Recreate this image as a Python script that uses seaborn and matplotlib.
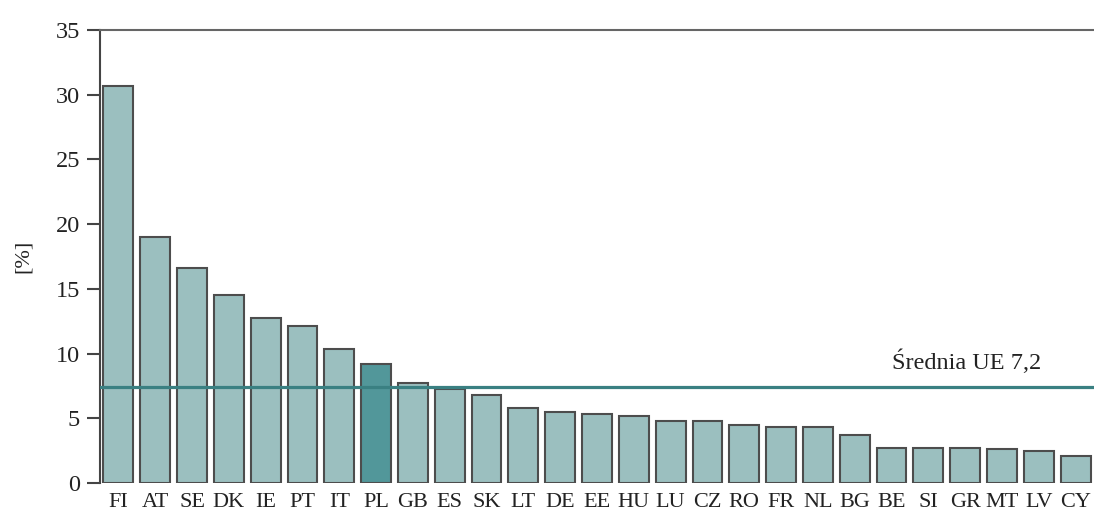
import numpy as np
import pandas as pd
import seaborn as sns
import matplotlib.pyplot as plt

# dane
countries = ["FI", "AT", "SE", "DK", "IE", "PT", "IT", "PL", "GB", "ES", "SK", "LT", "DE",
             "EE", "HU", "LU", "CZ", "RO", "FR", "NL", "BG", "BE", "SI", "GR", "MT", "LV", "CY"]
values = [30.7, 19.0, 16.6, 14.5, 12.75, 12.1, 10.35, 9.2, 7.7, 7.3, 6.8, 5.8, 5.5,
          5.35, 5.2, 4.8, 4.8, 4.45, 4.35, 4.35, 3.7, 2.72, 2.72, 2.72, 2.63, 2.5, 2.1]
highlight = "PL"
eu_mean_label = "Średnia UE 7,2"
eu_mean_line = 7.4  # polozenie linii

sns.set_style("white")
plt.rcParams['font.family'] = ['Liberation Serif', 'DejaVu Serif']

df = pd.DataFrame({"kraj": countries, "wartosc": values})
palette = {c: ("#52979a" if c == highlight else "#9bbfbf") for c in countries}

fig = plt.figure(figsize=(10.94, 5.15), dpi=100)
ax = fig.add_axes([0.0914, 0.062, 0.9086, 0.8797])

sns.barplot(data=df, x="kraj", y="wartosc", hue="kraj", palette=palette, legend=False,
            width=0.81, edgecolor="#4d4d4d", linewidth=1.5, saturation=1, ax=ax)

ax.axhline(eu_mean_line, color="#3a8082", linewidth=2.3, zorder=5)
ax.text(23.05, 9.35, eu_mean_label,
        fontsize=17.5, color="#222222", ha="center", va="center")

ax.set_xlim(-0.5, len(countries) - 0.5)
ax.set_ylim(0, 35)
ax.set_yticks(np.arange(0, 36, 5))
ax.set_xlabel("")
ax.set_ylabel("[%]", fontsize=16, color="#222222")
ax.yaxis.set_label_coords(-0.068, 0.5)

for s in ["right", "bottom"]:
    ax.spines[s].set_visible(False)
ax.spines["left"].set_color("#444444")
ax.spines["left"].set_linewidth(1.5)
ax.spines["top"].set_color("#666666")
ax.spines["top"].set_linewidth(1.5)

ax.tick_params(axis="y", direction="out", length=9.4, width=1.5, color="#444444",
               labelsize=17.5, labelcolor="#222222", pad=5, left=True)
ax.tick_params(axis="x", length=0, labelsize=16, labelcolor="#222222", pad=7)

fig.savefig("out.png", dpi=100)
